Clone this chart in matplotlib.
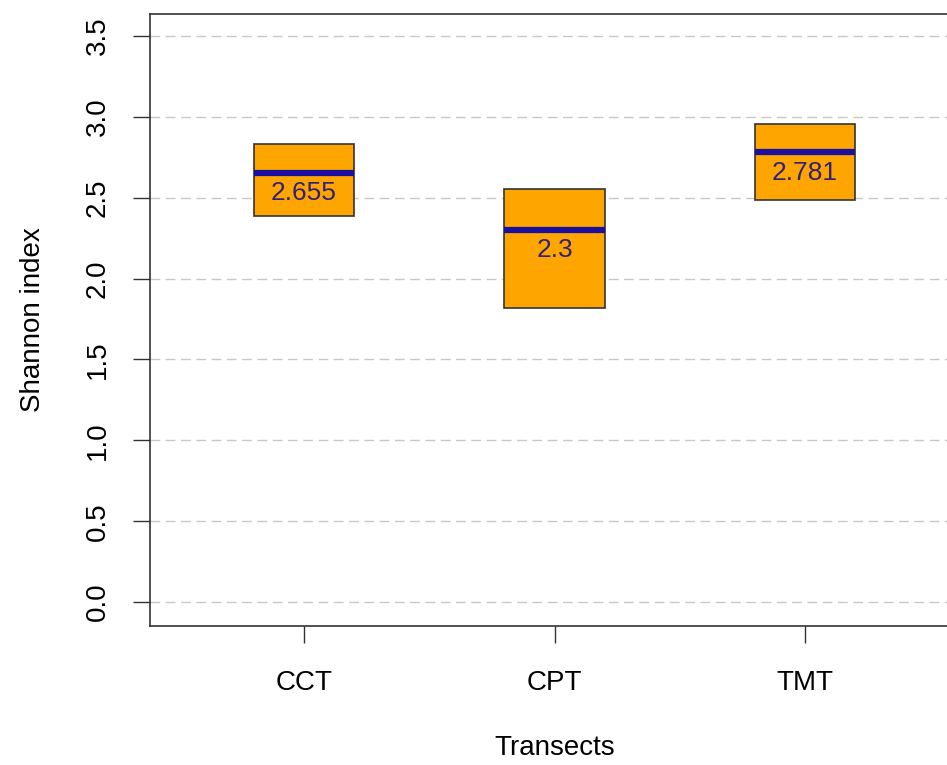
import matplotlib
matplotlib.use("Agg")
import matplotlib.pyplot as plt

categories = ["CCT", "CPT", "TMT"]
means = [2.655, 2.3, 2.781]
lower = [2.387, 1.818, 2.486]
upper = [2.832, 2.554, 2.956]
yticks = [0.0, 0.5, 1.0, 1.5, 2.0, 2.5, 3.0, 3.5]

plt.rcParams['font.family'] = ['Liberation Sans', 'DejaVu Sans']

W, H = 947, 765
fig = plt.figure(figsize=(W / 100, H / 100), dpi=100)
ax = fig.add_axes([150 / W, 1 - 626 / H, (959 - 150) / W, (626 - 14) / H])

FS = 20
x = list(range(1, len(categories) + 1))
bw = 0.4
for xi, lo, hi, m in zip(x, lower, upper, means):
    ax.bar(xi, hi - lo, bottom=lo, width=bw, color='#FFA500', edgecolor='#333333',
           linewidth=1.2, zorder=3)
    ax.plot([xi - bw / 2, xi + bw / 2], [m, m], color='#1a0f9e', linewidth=4.5,
            solid_capstyle='butt', zorder=4)
    ax.annotate(f"{m:g}", (xi, m), xytext=(0, -6), textcoords='offset points',
                ha='center', va='top', fontsize=FS - 1, color='#33207a', zorder=5)

for yt in yticks:
    ax.axhline(yt, color='#c8c8c8', linestyle=(0, (7, 4)), linewidth=1.0, zorder=1)

ax.set_xlim(1 - 0.615, 3 + 0.615)
ax.set_ylim(-0.148, 3.636)
ax.set_xticks(x)
ax.set_xticklabels(categories, fontsize=FS)
ax.set_yticks(yticks)
ax.set_yticklabels([f"{v:.1f}" for v in yticks], fontsize=FS, rotation=90, va='center')
ax.tick_params(axis='both', direction='out', length=12, width=1, color='#333333')
ax.tick_params(axis='x', pad=20)
ax.tick_params(axis='y', pad=16)
for s in ax.spines.values():
    s.set_color('#333333')
    s.set_linewidth(1.2)

ax.set_xlabel("Transects", fontsize=FS, labelpad=28)
ax.set_ylabel("Shannon index", fontsize=FS, labelpad=28)

fig.savefig("out.png", dpi=100)
